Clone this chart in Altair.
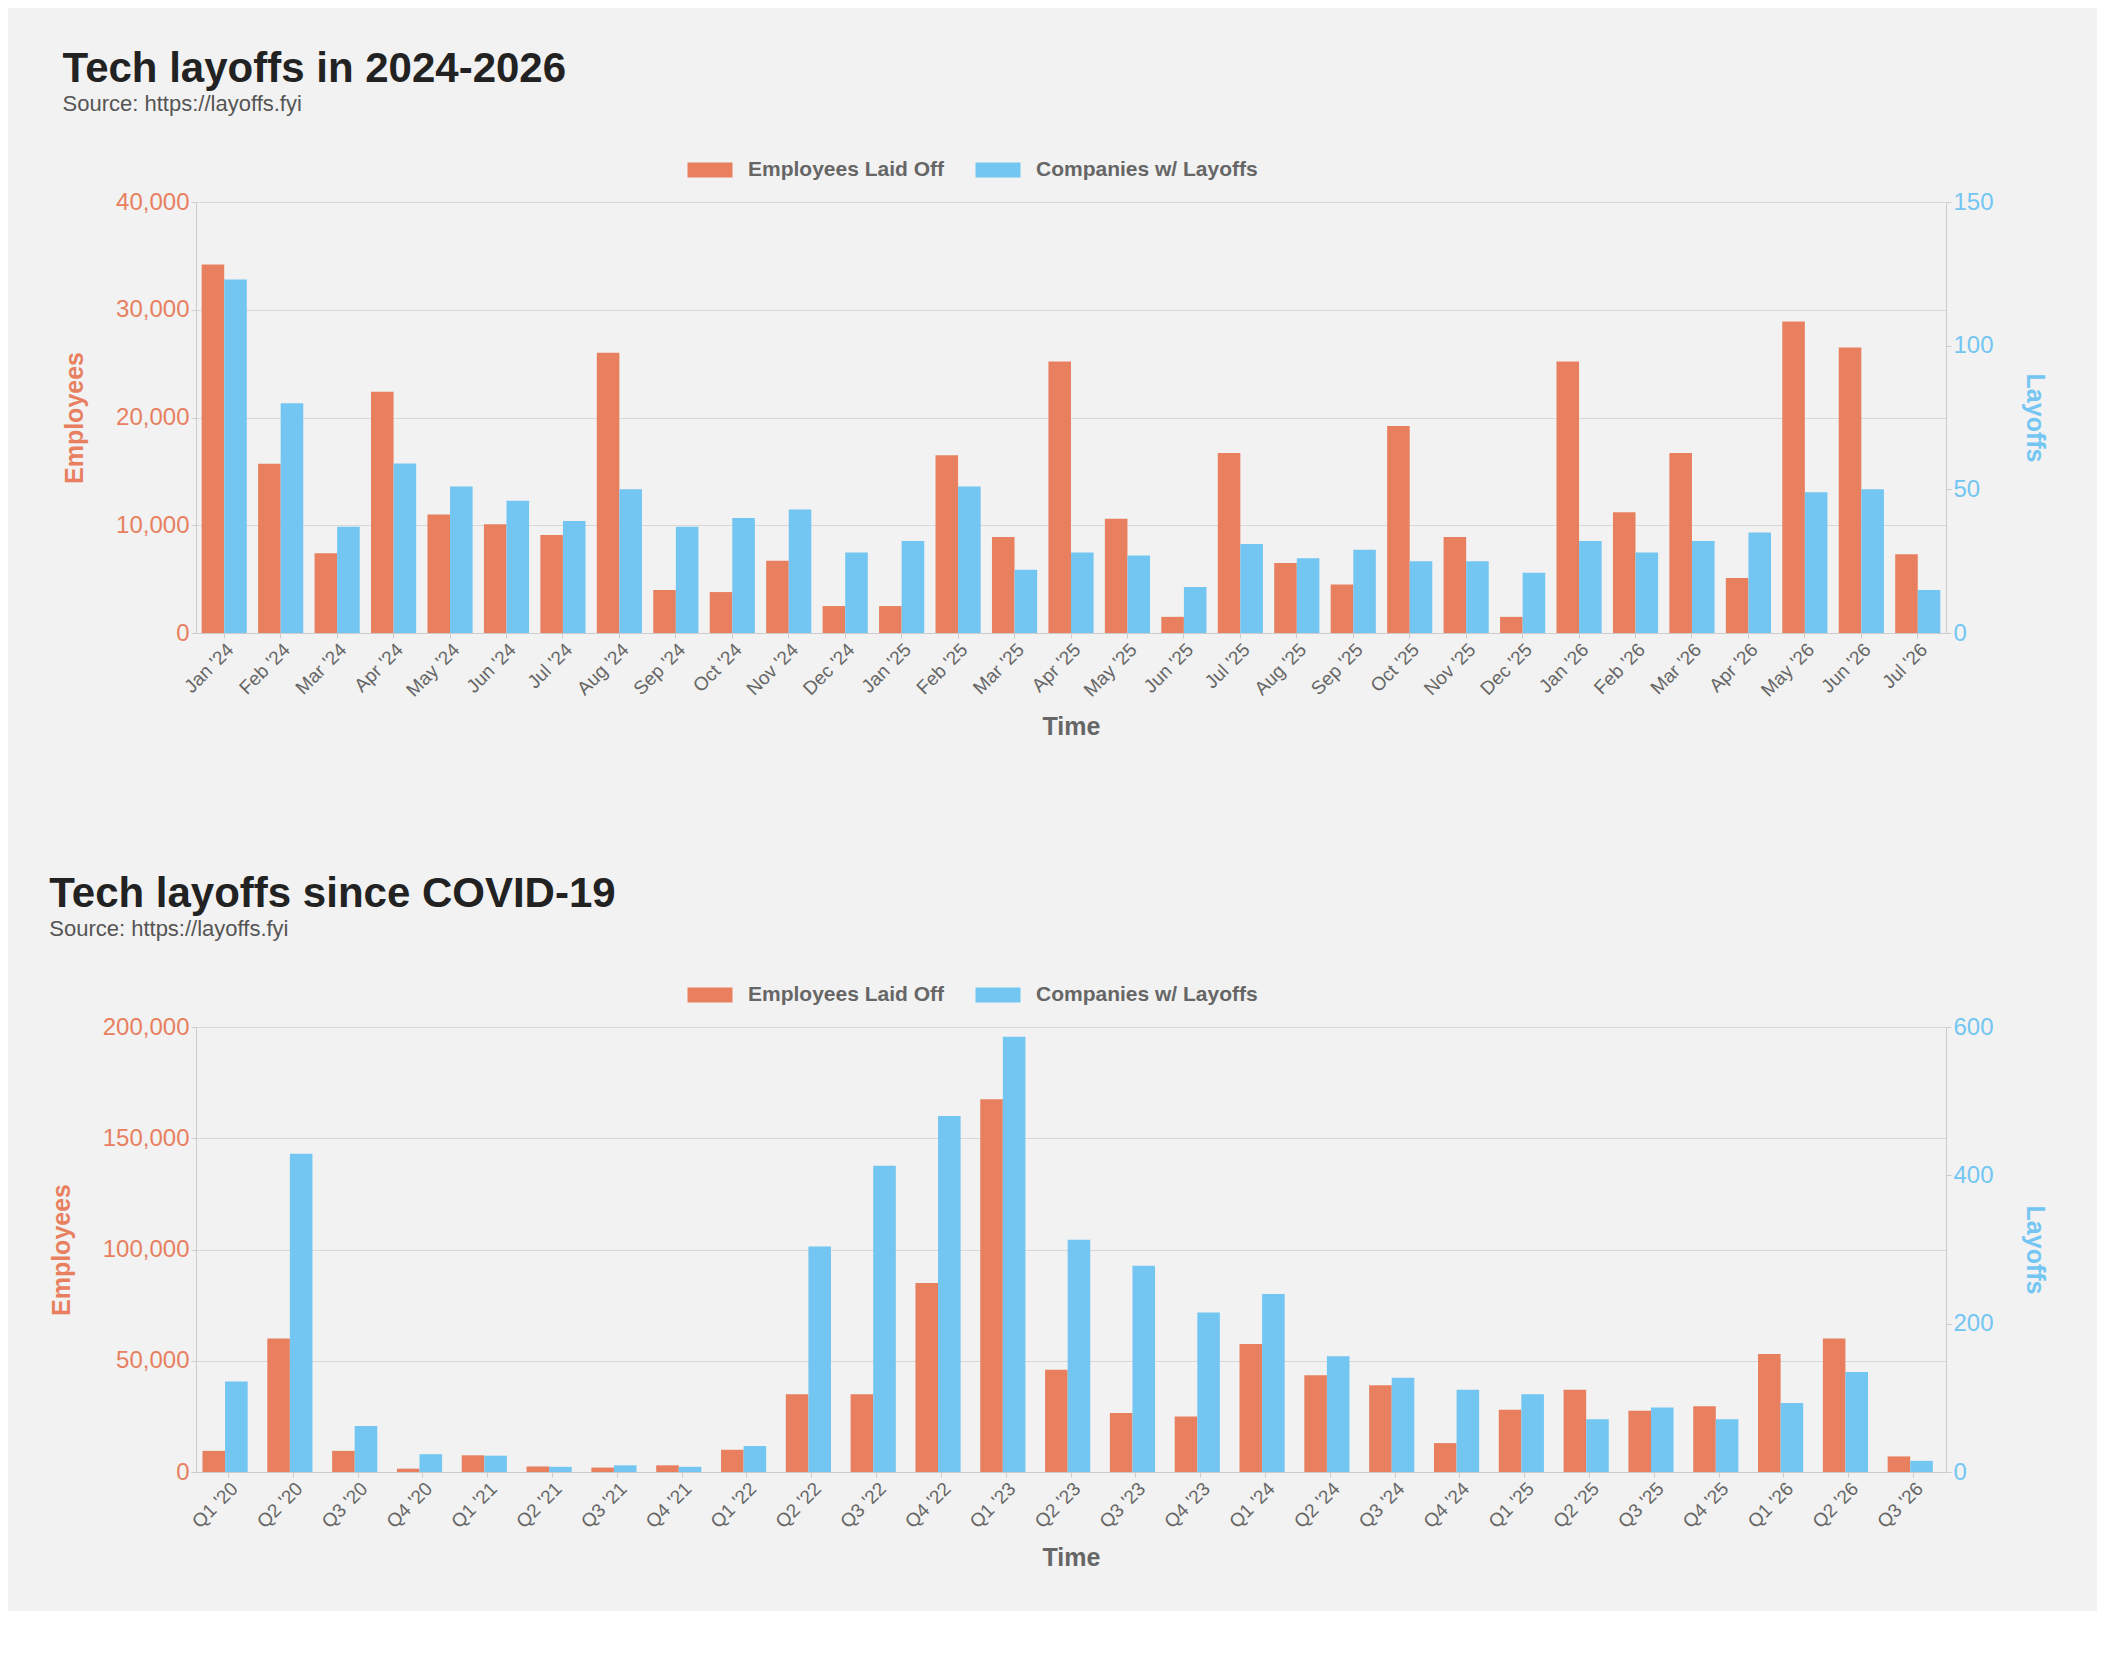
import altair as alt
import pandas as pd

months = ["Jan '24", "Feb '24", "Mar '24", "Apr '24", "May '24", "Jun '24", "Jul '24", "Aug '24",
          "Sep '24", "Oct '24", "Nov '24", "Dec '24", "Jan '25", "Feb '25", "Mar '25", "Apr '25",
          "May '25", "Jun '25", "Jul '25", "Aug '25", "Sep '25", "Oct '25", "Nov '25", "Dec '25",
          "Jan '26", "Feb '26", "Mar '26", "Apr '26", "May '26", "Jun '26", "Jul '26"]
month_employees = [34200, 15700, 7400, 22400, 11000, 10100, 9100, 26000, 4000, 3800, 6700, 2500,
                   2500, 16500, 8900, 25200, 10600, 1500, 16700, 6500, 4500, 19200, 8900, 1500,
                   25200, 11200, 16700, 5100, 28900, 26500, 7300]
month_companies = [123, 80, 37, 59, 51, 46, 39, 50, 37, 40, 43, 28, 32, 51, 22, 28, 27, 16, 31, 26,
                   29, 25, 25, 21, 32, 28, 32, 35, 49, 50, 15]

quarters = ["Q1 '20", "Q2 '20", "Q3 '20", "Q4 '20", "Q1 '21", "Q2 '21", "Q3 '21", "Q4 '21",
            "Q1 '22", "Q2 '22", "Q3 '22", "Q4 '22", "Q1 '23", "Q2 '23", "Q3 '23", "Q4 '23",
            "Q1 '24", "Q2 '24", "Q3 '24", "Q4 '24", "Q1 '25", "Q2 '25", "Q3 '25", "Q4 '25",
            "Q1 '26", "Q2 '26", "Q3 '26"]
quarter_employees = [9500, 60000, 9500, 1500, 7500, 2500, 2000, 3000, 10000, 35000, 35000, 85000,
                     167500, 46000, 26500, 25000, 57500, 43500, 39000, 13000, 28000, 37000, 27500,
                     29500, 53000, 60000, 7000]
quarter_companies = [122, 429, 62, 24, 22, 7, 9, 7, 35, 304, 413, 480, 587, 313, 278, 215, 240,
                     156, 127, 111, 105, 71, 87, 71, 93, 135, 15]

RED = "#E8805F"
BLUE = "#73C6F2"
SERIES = ["Employees Laid Off", "Companies w/ Layoffs"]
FONT = "Liberation Sans"


def make_panel(title, cats, emp, comp, emp_max, comp_max, height, legend_x):
    df_e = pd.DataFrame({"t": cats, "v": emp, "s": SERIES[0]})
    df_c = pd.DataFrame({"t": cats, "v": comp, "s": SERIES[1]})
    x = alt.X("t:N", sort=cats, title="Time",
              scale=alt.Scale(paddingInner=0.2, paddingOuter=0.1),
              axis=alt.Axis(labelAngle=-45, labelFontSize=19, labelColor="#666",
                            titleFontSize=25, titleColor="#666", grid=False,
                            domainColor="#ccc", tickColor="#ccc", titlePadding=14))
    color = alt.Color("s:N", scale=alt.Scale(domain=SERIES, range=[RED, BLUE]),
                      legend=alt.Legend(orient="none", legendX=legend_x, legendY=-48,
                                        direction="horizontal", title=None, labelFontSize=21,
                                        labelFontWeight="bold", labelColor="#666", labelLimit=0,
                                        symbolType="M-1.5,-0.5H1.5V0.5H-1.5Z", symbolSize=900,
                                        symbolOpacity=1, columnPadding=30, labelOffset=22))
    xoff = alt.XOffset("s:N", scale=alt.Scale(domain=SERIES))
    left = alt.Chart(df_e).mark_bar().encode(
        x=x, xOffset=xoff, color=color,
        y=alt.Y("v:Q", title="Employees", scale=alt.Scale(domain=[0, emp_max]),
                axis=alt.Axis(format=",d", tickCount=4, labelFontSize=24, labelColor=RED,
                              titleFontSize=25, titleColor=RED, gridColor="#d8d8d8",
                              domainColor="#ccc", tickColor="#ccc", titlePadding=28)))
    right = alt.Chart(df_c).mark_bar().encode(
        x=x, xOffset=xoff, color=color,
        y=alt.Y("v:Q", title="Layoffs", scale=alt.Scale(domain=[0, comp_max]),
                axis=alt.Axis(orient="right", tickCount=3, labelFontSize=24, labelColor=BLUE,
                              titleFontSize=25, titleColor=BLUE, grid=False,
                              domainColor="#ccc", tickColor="#ccc", titlePadding=28)))
    return alt.layer(left, right).resolve_scale(y="independent").properties(
        width=1750, height=height,
        title=alt.TitleParams(title, subtitle="Source: https://layoffs.fyi", anchor="start",
                              fontSize=42, color="#222", subtitleFontSize=22,
                              subtitleColor="#555", font=FONT, subtitleFont=FONT, offset=38))


top = make_panel("Tech layoffs in 2024-2026", months, month_employees, month_companies,
                 40000, 150, 431, 498)
bottom = make_panel("Tech layoffs since COVID-19", quarters, quarter_employees, quarter_companies,
                    200000, 600, 445, 498)

chart = alt.vconcat(top, bottom, spacing=133).resolve_legend(color="independent").configure(
    background="#f2f2f2", font=FONT,
    padding={"top": 40, "left": 41, "right": 50, "bottom": 40}
).configure_view(stroke=None)

chart.save("out.html", embed_options={"renderer": "svg", "actions": False})
